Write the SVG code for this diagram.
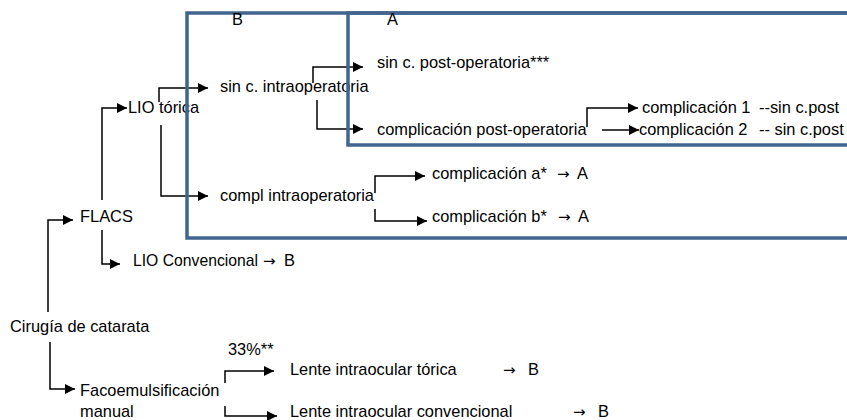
<svg xmlns="http://www.w3.org/2000/svg" width="847" height="420" viewBox="0 0 847 420">
<style>
text{font-family:"Liberation Sans",Arial,sans-serif;font-size:16.4px;fill:#000}
text.ar{font-family:"DejaVu Sans",sans-serif;font-size:15px}
.c{fill:none;stroke:#000;stroke-width:1.5;marker-end:url(#ah)}
.box{fill:none;stroke:#41658f;stroke-width:3.5}
</style>
<defs>
<marker id="ah" viewBox="0 0 10 10" refX="10" refY="5" markerUnits="userSpaceOnUse" markerWidth="11" markerHeight="10" orient="auto">
<path d="M0,0 L10,5 L0,10 z" fill="#000"/>
</marker>
</defs>
<rect width="847" height="420" fill="#fff"/>
<g id="n-cirugia"><text x="10" y="332">Cirugía de catarata</text></g>
<g id="n-flacs"><text x="80" y="222">FLACS</text></g>
<g id="n-lio-torica"><text x="128" y="113">LIO tórica</text></g>
<g id="n-lio-conv"><text x="133" y="266" textLength="125" lengthAdjust="spacingAndGlyphs">LIO Convencional</text><text class="ar" x="263" y="266">→</text><text x="284" y="266">B</text></g>
<g id="n-sin-intra"><text x="220" y="92">sin c. intraoperatoria</text></g>
<g id="n-compl-intra"><text x="220" y="201">compl intraoperatoria</text></g>
<g id="n-sin-post"><text x="377" y="68">sin c. post-operatoria***</text></g>
<g id="n-compl-post"><text x="377" y="135">complicación post-operatoria</text></g>
<g id="n-compl1"><text x="642" y="113">complicación 1</text><text x="759" y="113">--sin c.post</text></g>
<g id="n-compl2"><text x="639" y="135">complicación 2</text><text x="759" y="135">-- sin c.post</text></g>
<g id="n-compl-a"><text x="432" y="179">complicación a*</text><text class="ar" x="557" y="179">→</text><text x="577" y="179">A</text></g>
<g id="n-compl-b"><text x="432" y="222">complicación b*</text><text class="ar" x="558" y="222">→</text><text x="578" y="222">A</text></g>
<g id="n-faco"><text x="80" y="396">Facoemulsificación</text><text x="80" y="417">manual</text></g>
<g id="n-pct"><text x="228" y="355">33%**</text></g>
<g id="n-lente-torica"><text x="290" y="375">Lente intraocular tórica</text><text class="ar" x="503" y="375">→</text><text x="528" y="375">B</text></g>
<g id="n-lente-conv"><text x="290" y="417">Lente intraocular convencional</text><text class="ar" x="573" y="417">→</text><text x="598" y="417">B</text></g>
<g id="connectors">
<path class="c" d="M48,312 V220 H73"/>
<path class="c" d="M50,342 V389 H75"/>
<path class="c" d="M102,230 V264 H120"/>
<path class="c" d="M102,200 V108 H127"/>
<path class="c" d="M159,102 V88 H208"/>
<path class="c" d="M161,125 V196 H208"/>
<path class="c" d="M313,83 V67 H363"/>
<path class="c" d="M317,100 V129 H363"/>
<path class="c" d="M587,127 V108 H638"/>
<path class="c" d="M602,130 H639"/>
<path class="c" d="M375,193 V176 H425"/>
<path class="c" d="M375,209 V221 H427"/>
<path class="c" d="M225,383 V371 H274"/>
<path class="c" d="M225,406 V416 H277"/>
</g>
<g id="group-B"><rect class="box" x="187" y="13" width="700" height="225"/><text x="232" y="25">B</text></g>
<g id="group-A"><rect class="box" x="348" y="13" width="600" height="132"/><text x="387" y="25">A</text></g>
</svg>
